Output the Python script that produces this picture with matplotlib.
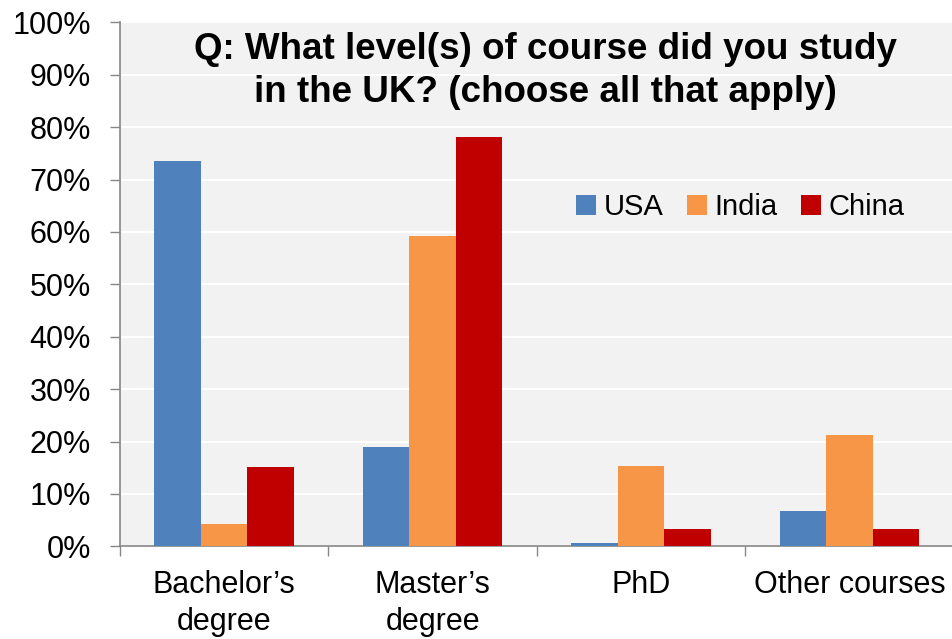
import numpy as np
import matplotlib.pyplot as plt
from matplotlib.ticker import PercentFormatter, FixedLocator

# data
categories = ["Bachelor\u2019s\ndegree", "Master\u2019s\ndegree", "PhD", "Other courses"]
usa = [73.5, 19.0, 0.6, 6.7]
india = [4.2, 59.2, 15.3, 21.2]
china = [15.1, 78.1, 3.4, 3.4]
series_names = ["USA", "India", "China"]
colors = ["#4F81BD", "#F79646", "#C00000"]

plt.rcParams['font.family'] = ['Liberation Sans', 'DejaVu Sans']

fig = plt.figure(figsize=(9.52, 6.39), dpi=100)
ax = fig.add_axes([0.126, 0.145, 0.876, 0.820])
ax.set_facecolor("#F2F2F2")

x = np.arange(len(categories))
w = 0.223
for i, (vals, name, c) in enumerate(zip([usa, india, china], series_names, colors)):
    ax.bar(x + (i - 1) * w, vals, width=w, color=c, label=name, zorder=3)

ax.set_xlim(-0.5, len(categories) - 0.5)
ax.set_ylim(0, 100)
ax.set_yticks(np.arange(0, 101, 10))
ax.yaxis.set_major_formatter(PercentFormatter(decimals=0))
ax.yaxis.grid(True, color="white", linewidth=1.5, zorder=0)

ax.set_xticks(x)
ax.set_xticklabels(categories, linespacing=1.3)
ax.tick_params(axis="x", which="major", length=0, pad=17, labelsize=22)
ax.xaxis.set_minor_locator(FixedLocator(np.arange(-0.5, len(categories), 1.0)))
ax.tick_params(axis="x", which="minor", length=7, width=1, color="#868686", direction="out")
ax.tick_params(axis="y", length=7, width=1, color="#868686", pad=14, labelsize=22)

for s in ["top", "right"]:
    ax.spines[s].set_visible(False)
for s in ["left", "bottom"]:
    ax.spines[s].set_color("#868686")
    ax.spines[s].set_linewidth(1.2)

ax.text(0.51, 0.982, "Q: What level(s) of course did you study\nin the UK? (choose all that apply)",
        transform=ax.transAxes, ha="center", va="top", fontsize=26.5,
        fontweight="bold", linespacing=1.3)

ax.legend(loc="center", bbox_to_anchor=(0.744, 0.647), ncol=3, frameon=False,
          fontsize=21, handlelength=0.7, handleheight=0.7, handletextpad=0.25,
          columnspacing=0.8)

fig.savefig("out.png", dpi=100)
